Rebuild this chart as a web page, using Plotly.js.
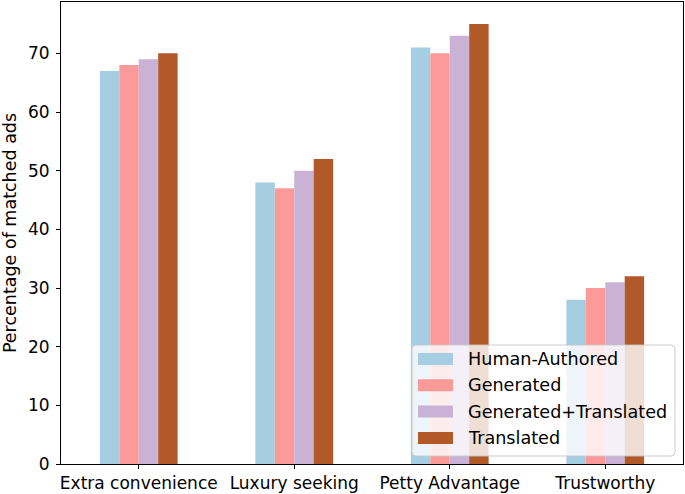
<!DOCTYPE html>
<html>
<head>
<meta charset="utf-8">
<script src="https://cdn.plot.ly/plotly-3.0.1.min.js"></script>
<style>html,body{margin:0;padding:0;background:#fff;}#chart{width:685px;height:494px;}</style>
</head>
<body>
<div id="chart"></div>
<script>
const categories = ["Extra convenience", "Luxury seeking", "Petty Advantage", "Trustworthy"];
const seriesNames = ["Human-Authored", "Generated", "Generated+Translated", "Translated"];
const humanAuthored = [67, 48, 71, 28];
const generated = [68, 47, 70, 30];
const generatedTranslated = [69, 50, 73, 31];
const translated = [70, 52, 75, 32];
const yTicks = [0, 10, 20, 30, 40, 50, 60, 70];
const colors = ["#a6cee3", "#fb9a99", "#cab2d6", "#b15928"];

const seriesValues = [humanAuthored, generated, generatedTranslated, translated];
const FONT = "DejaVu Sans, sans-serif";

// plot area in pixels (for converting legend placement to paper coords)
const W = 685, H = 494, ML = 61, MR = 2, MT = 2, MB = 30;
const PW = W - ML - MR, PH = H - MT - MB;
const px = x => (x - ML) / PW;
const py = y => (H - MB - y) / PH;

const traces = seriesValues.map((vals, i) => ({
  type: "bar",
  name: seriesNames[i],
  x: categories.map((c, k) => k),
  y: vals,
  marker: {color: colors[i], line: {width: 0}},
  hoverinfo: "none",
  showlegend: false
}));

// manual legend (matplotlib style: wide patches, rounded translucent frame)
const shapes = [];
const annotations = [];
const lx0 = 412, lx1 = 675, ly0 = 345, ly1 = 456, r = 4;
{
  const x0 = px(lx0), x1 = px(lx1), y0 = py(ly0), y1 = py(ly1);
  const rx = r / PW, ry = r / PH;
  shapes.push({
    type: "path", xref: "paper", yref: "paper", layer: "above",
    path: `M ${x0 + rx} ${y0} L ${x1 - rx} ${y0} Q ${x1} ${y0} ${x1} ${y0 - ry} L ${x1} ${y1 + ry} Q ${x1} ${y1} ${x1 - rx} ${y1} L ${x0 + rx} ${y1} Q ${x0} ${y1} ${x0} ${y1 + ry} L ${x0} ${y0 - ry} Q ${x0} ${y0} ${x0 + rx} ${y0} Z`,
    fillcolor: "rgba(255,255,255,0.8)",
    line: {color: "rgba(200,200,200,0.9)", width: 1}
  });
}
seriesNames.forEach((name, i) => {
  const cy = 359 + i * 26.3;
  shapes.push({
    type: "rect", xref: "paper", yref: "paper", layer: "above",
    x0: px(418), x1: px(453), y0: py(cy - 6), y1: py(cy + 6),
    fillcolor: colors[i], line: {width: 0}
  });
  annotations.push({
    xref: "paper", yref: "paper", x: px(466), y: py(cy),
    xanchor: "left", yanchor: "middle", showarrow: false,
    text: name, font: {family: FONT, size: 17.6, color: "#000"}
  });
});

const layout = {
  width: W,
  height: H,
  margin: {l: ML, r: MR, t: MT, b: MB, pad: 0},
  paper_bgcolor: "#ffffff",
  plot_bgcolor: "#ffffff",
  barmode: "group",
  bargap: 0.5,
  bargroupgap: 0,
  font: {family: FONT, size: 17, color: "#000"},
  showlegend: false,
  shapes: shapes,
  annotations: annotations,
  xaxis: {
    range: [-0.5, 3.5],
    tickmode: "array",
    tickvals: categories.map((c, k) => k),
    ticktext: categories,
    ticks: "outside", ticklen: 4, tickwidth: 1, tickcolor: "#000",
    showline: true, mirror: true, linecolor: "#000", linewidth: 1,
    showgrid: false, zeroline: false,
    tickfont: {family: FONT, size: 17, color: "#000"},
    automargin: false
  },
  yaxis: {
    range: [0, 78.75],
    tickmode: "array",
    tickvals: yTicks,
    ticktext: yTicks.map(String),
    ticks: "outside", ticklen: 4, tickwidth: 1, tickcolor: "#000",
    ticklabelstandoff: 3,
    showline: true, mirror: true, linecolor: "#000", linewidth: 1,
    showgrid: false, zeroline: false,
    tickfont: {family: FONT, size: 17, color: "#000"},
    title: {text: "Percentage of matched ads", font: {family: FONT, size: 17.5, color: "#000"}, standoff: 10},
    automargin: false
  }
};

Plotly.newPlot("chart", traces, layout, {staticPlot: true, displayModeBar: false});
</script>
</body>
</html>
